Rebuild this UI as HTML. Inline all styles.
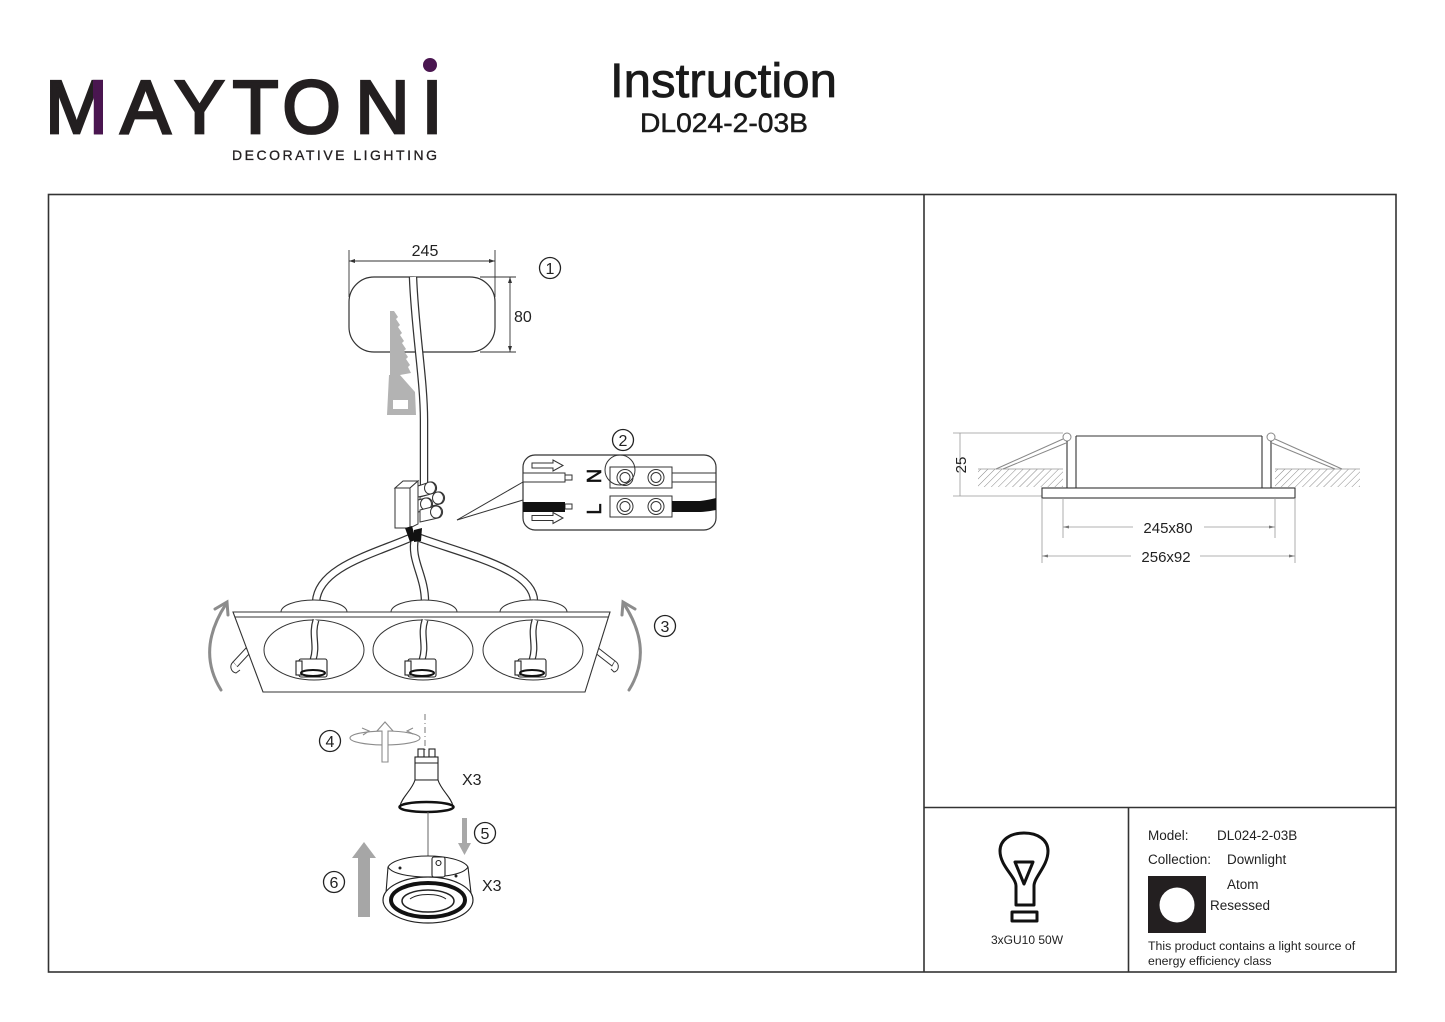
<!DOCTYPE html>
<html><head><meta charset="utf-8">
<style>html,body{margin:0;padding:0;background:#fff}svg{display:block}</style>
</head>
<body>
<svg width="1445" height="1022" viewBox="0 0 1445 1022" xmlns="http://www.w3.org/2000/svg" font-family="'Liberation Sans', Arial, sans-serif">
<defs>
  <clipPath id="mclip"><rect x="93" y="60" width="20" height="90"/></clipPath>
  <pattern id="hatch" width="5" height="5" patternUnits="userSpaceOnUse" patternTransform="rotate(45)">
    <line x1="0" y1="0" x2="0" y2="5" stroke="#8a8a8a" stroke-width="1"/>
  </pattern>
</defs>
<rect width="1445" height="1022" fill="#fff"/>

<!-- LOGO -->
<g fill="#231f20" stroke="#231f20" stroke-width="2.8" font-size="75" text-anchor="middle">
  <text x="76.5" y="133">M</text>
  <text x="145.5" y="133">A</text>
  <text x="199.5" y="133">Y</text>
  <text x="255.5" y="133">T</text>
  <text x="311.5" y="133">O</text>
  <text x="382.5" y="133">N</text>
  <text x="432" y="133">I</text>
</g>
<g clip-path="url(#mclip)"><text x="76.5" y="133" font-size="75" text-anchor="middle" fill="#4a1650" stroke="#4a1650" stroke-width="2.8">M</text></g>
<circle cx="430" cy="65" r="7" fill="#4a1650"/>
<text x="232" y="160" font-size="14" fill="#231f20" stroke="#231f20" stroke-width="0.3" textLength="205" lengthAdjust="spacing">DECORATIVE LIGHTING</text>

<!-- TITLE -->
<text x="610" y="97" font-size="48" fill="#1a1a1a" stroke="#1a1a1a" stroke-width="0.8" textLength="227" lengthAdjust="spacingAndGlyphs">Instruction</text>
<text x="640" y="132" font-size="27" fill="#1a1a1a" stroke="#1a1a1a" stroke-width="0.5" textLength="168" lengthAdjust="spacingAndGlyphs">DL024-2-03B</text>

<!-- FRAME -->
<g stroke="#333" stroke-width="1.6" fill="none">
  <rect x="48.5" y="194.5" width="1347.5" height="777.5"/>
  <line x1="924" y1="194" x2="924" y2="972"/>
  <line x1="924" y1="807.5" x2="1396" y2="807.5"/>
  <line x1="1128.5" y1="807" x2="1128.5" y2="972"/>
</g>

<!-- STEP 1 -->
<g stroke="#333" fill="none" stroke-width="0.9">
  <line x1="349" y1="250" x2="349" y2="297"/>
  <line x1="495" y1="250" x2="495" y2="297"/>
  <line x1="349" y1="261" x2="495" y2="261"/>
  <line x1="480" y1="277" x2="516" y2="277"/>
  <line x1="480" y1="352" x2="516" y2="352"/>
  <line x1="510" y1="277" x2="510" y2="352"/>
</g>
<g fill="#333">
  <polygon points="349,261 355,259 355,263"/>
  <polygon points="495,261 489,259 489,263"/>
  <polygon points="510,277 508,283 512,283"/>
  <polygon points="510,352 508,346 512,346"/>
</g>
<text x="425" y="256" font-size="16" text-anchor="middle" fill="#222">245</text>
<text x="514" y="322" font-size="16" fill="#222">80</text>
<rect x="349" y="277" width="146" height="75" rx="25" fill="none" stroke="#333" stroke-width="1.2"/>
<circle cx="550" cy="268" r="10.5" fill="none" stroke="#222" stroke-width="1.3"/>
<text x="550" y="274" font-size="16" text-anchor="middle" fill="#222">1</text>

<!-- saw -->
<path d="M390,311 L394,311 L398,317 L396,319 L400,325 L398,327 L402,333 L400,335 L404,341 L402,343 L406,349 L404,351 L408,357 L406,359 L410,365 L408,367 L411,373 L400,375 L415,392 L416,415 L387,415 L389,375 L390,375 Z" fill="#b3b3b3"/>
<rect x="393" y="400" width="15" height="9" fill="#fff"/>

<!-- main cable -->
<path d="M413,277 C 415,330 424,380 424,420 L 424,488" fill="none" stroke="#333" stroke-width="8.5"/>
<path d="M413,277 C 415,330 424,380 424,420 L 424,488" fill="none" stroke="#fff" stroke-width="6"/>

<!-- cables to lamps -->
<g fill="none">
  <path d="M410,538 C 370,555 318,568 316,602" stroke="#333" stroke-width="8.5"/>
  <path d="M410,538 C 370,555 318,568 316,602" stroke="#fff" stroke-width="6"/>
  <path d="M415,538 C 410,560 425,575 425,602" stroke="#333" stroke-width="8.5"/>
  <path d="M415,538 C 410,560 425,575 425,602" stroke="#fff" stroke-width="6"/>
  <path d="M420,538 C 470,556 535,570 534,602" stroke="#333" stroke-width="8.5"/>
  <path d="M420,538 C 470,556 535,570 534,602" stroke="#fff" stroke-width="6"/>
</g>

<!-- connector block -->
<g stroke="#333" stroke-width="1" fill="#fff">
  <polygon points="395,488 403,481 418,481 410,488"/>
  <rect x="395" y="488" width="15" height="40"/>
  <polygon points="410,488 418,481 418,524 410,528"/>
  <path d="M418,486 L430,482 A5.5,6 0 0 1 432,494 L418,497 Z"/>
  <ellipse cx="430" cy="488" rx="5.5" ry="6"/>
  <path d="M420,497 L438,492 A5.5,6 0 0 1 440,504 L420,509 Z"/>
  <ellipse cx="438" cy="498" rx="5.5" ry="6"/>
  <path d="M418,500 L426,498 A5.5,6 0 0 1 428,510 L418,512 Z"/>
  <ellipse cx="426" cy="504" rx="5.5" ry="6"/>
  <path d="M420,510 L436,506 A5.5,6 0 0 1 438,518 L420,522 Z"/>
  <ellipse cx="436" cy="512" rx="5.5" ry="6"/>
</g>
<path d="M405,528 L412,526 L416,540 L410,542 Z" fill="#111"/>
<path d="M414,530 L422,528 L421,541 L414,542 Z" fill="#111"/>

<!-- leader -->
<g stroke="#333" stroke-width="1" fill="none">
  <line x1="457" y1="520" x2="523" y2="482"/>
  <line x1="457" y1="520" x2="523" y2="500"/>
</g>

<!-- STEP 2 box -->
<rect x="523" y="455" width="193" height="75" rx="12" fill="#fff" stroke="#333" stroke-width="1.2"/>
<g stroke="#333" stroke-width="1" fill="#fff">
  <polygon points="532,463 553,463 553,460 563,465.5 553,471 553,468 532,468"/>
  <polygon points="532,515.5 553,515.5 553,512.5 563,518 553,523.5 553,520.5 532,520.5"/>
  <rect x="523" y="473" width="42" height="9"/>
  <rect x="565" y="475" width="7" height="5"/>
  <rect x="565" y="504" width="7" height="5"/>
  <rect x="610" y="467" width="62" height="21"/>
  <rect x="610" y="496" width="62" height="21"/>
  <circle cx="625" cy="477.5" r="8"/><circle cx="625" cy="477.5" r="5"/>
  <circle cx="656" cy="477.5" r="8"/><circle cx="656" cy="477.5" r="5"/>
  <circle cx="625" cy="506.5" r="8"/><circle cx="625" cy="506.5" r="5"/>
  <circle cx="656" cy="506.5" r="8"/><circle cx="656" cy="506.5" r="5"/>
  <line x1="672" y1="473" x2="716" y2="473"/>
  <line x1="672" y1="482" x2="716" y2="482"/>
</g>
<rect x="523" y="502" width="42" height="10" fill="#111"/>
<path d="M672,501 L700,501 C 708,500 712,499 716,498 L716,510 C 710,511 705,512 698,512 L672,512 Z" fill="#111"/>
<circle cx="620" cy="470" r="15" fill="none" stroke="#333" stroke-width="1"/>
<text transform="translate(594,476) rotate(-90)" y="7" font-size="20" text-anchor="middle" fill="#111" stroke="#111" stroke-width="0.6">N</text>
<text transform="translate(594,509) rotate(-90)" y="7" font-size="20" text-anchor="middle" fill="#111" stroke="#111" stroke-width="0.6">L</text>
<circle cx="623" cy="440" r="10.5" fill="none" stroke="#222" stroke-width="1.3"/>
<text x="623" y="446" font-size="16" text-anchor="middle" fill="#222">2</text>

<!-- STEP 3 -->
<g stroke="#333" stroke-width="1" fill="#fff">
  <path d="M281,612 A33,12 0 0 1 347,612 Z"/>
  <path d="M391,612 A33,12 0 0 1 457,612 Z"/>
  <path d="M500,612 A33,12 0 0 1 567,612 Z"/>
</g>
<!-- clips -->
<g stroke="#333" stroke-width="1" fill="#fff">
  <polygon points="233,662 246,648 250,653 237,667"/>
  <path d="M233,662 C 229,666 231,672 236,673 L 240,670"/>
  <polygon points="597,647 615,661 612,666 594,652"/>
  <path d="M615,661 C 620,664 619,671 614,672 L 611,669"/>
</g>
<polygon points="233,612 610,612 585,692 263,692" fill="#fff" stroke="#333" stroke-width="1.1"/>
<line x1="235" y1="617" x2="608" y2="617" stroke="#333" stroke-width="1"/>
<g stroke="#333" stroke-width="1" fill="none">
  <ellipse cx="314" cy="650" rx="50" ry="30"/>
  <ellipse cx="423" cy="650" rx="50" ry="30"/>
  <ellipse cx="533" cy="650" rx="50" ry="30"/>
</g>
<g fill="none">
  <path d="M316,620 C 311,635 318,645 313,660" stroke="#333" stroke-width="7"/>
  <path d="M316,620 C 311,635 318,645 313,660" stroke="#fff" stroke-width="4.5"/>
  <path d="M425,620 C 420,635 427,645 422,660" stroke="#333" stroke-width="7"/>
  <path d="M425,620 C 420,635 427,645 422,660" stroke="#fff" stroke-width="4.5"/>
  <path d="M535,620 C 530,635 537,645 532,660" stroke="#333" stroke-width="7"/>
  <path d="M535,620 C 530,635 537,645 532,660" stroke="#fff" stroke-width="4.5"/>
</g>
<g stroke="#222" stroke-width="1.1" fill="#fff">
  <rect x="299" y="659" width="28" height="18" rx="2"/>
  <rect x="296" y="661" width="6" height="14"/>
  <rect x="408" y="659" width="28" height="18" rx="2"/>
  <rect x="405" y="661" width="6" height="14"/>
  <rect x="518" y="659" width="28" height="18" rx="2"/>
  <rect x="515" y="661" width="6" height="14"/>
</g>
<g stroke="#111" stroke-width="2" fill="none">
  <ellipse cx="313" cy="673" rx="12" ry="3"/>
  <ellipse cx="422" cy="673" rx="12" ry="3"/>
  <ellipse cx="532" cy="673" rx="12" ry="3"/>
</g>
<!-- gray arrows -->
<g stroke="#8c8c8c" stroke-width="3" fill="none" stroke-linecap="round">
  <path d="M221,690 Q 196,650 226,604"/>
  <polyline points="215,609 227,602 228,615"/>
  <path d="M629,690 Q 654,650 624,604"/>
  <polyline points="635,609 623,602 622,615"/>
</g>
<circle cx="665" cy="626" r="10.5" fill="none" stroke="#222" stroke-width="1.3"/>
<text x="665" y="632" font-size="16" text-anchor="middle" fill="#222">3</text>

<!-- STEP 4 -->
<circle cx="330" cy="741" r="10.5" fill="none" stroke="#222" stroke-width="1.3"/>
<text x="330" y="747" font-size="16" text-anchor="middle" fill="#222">4</text>
<g stroke="#8c8c8c" stroke-width="1.1" fill="none">
  <ellipse cx="385" cy="738" rx="35" ry="7"/>
  <polyline points="362,728 369,731 363,735"/>
  <polyline points="413,728 407,731 413,734"/>
  <polygon points="382,762 388,762 388,731 393,731 385,722 377,731 382,731" fill="#fff"/>
</g>
<line x1="425" y1="714" x2="425" y2="752" stroke="#777" stroke-width="1" stroke-dasharray="6 3 1 3"/>
<!-- bulb -->
<g stroke="#222" stroke-width="1.1" fill="#fff">
  <rect x="418" y="749" width="6" height="8"/>
  <rect x="429" y="749" width="6" height="8"/>
  <rect x="415" y="757" width="23" height="23"/>
  <line x1="415" y1="763" x2="438" y2="763"/>
  <path d="M415,780 C 412,790 402,797 400,806 L453,806 C 451,797 441,790 438,780 Z"/>
</g>
<ellipse cx="426.5" cy="807" rx="27" ry="5" fill="#fff" stroke="#111" stroke-width="2.5"/>
<text x="462" y="785" font-size="16" fill="#222">X3</text>
<line x1="428" y1="812" x2="428" y2="862" stroke="#666" stroke-width="1"/>
<!-- step 5 -->
<polygon points="462,818 467,818 467,843 471,843 464.5,855 458,843 462,843" fill="#a8a8a8"/>
<circle cx="485" cy="833" r="10.5" fill="none" stroke="#222" stroke-width="1.3"/>
<text x="485" y="839" font-size="16" text-anchor="middle" fill="#222">5</text>
<!-- step 6 -->
<polygon points="358,917 370,917 370,858 376,858 364,842 352,858 358,858" fill="#a6a6a6"/>
<circle cx="334" cy="882" r="10.5" fill="none" stroke="#222" stroke-width="1.3"/>
<text x="334" y="888" font-size="16" text-anchor="middle" fill="#222">6</text>
<!-- ring -->
<g stroke="#222" stroke-width="1.1" fill="#fff">
  <path d="M388,867 C 392,860 410,856 428,856 C 446,856 464,860 468,867 L 471,893 L 386,893 Z"/>
  <path d="M388,867 C 392,874 410,877 428,877 C 446,877 464,874 468,867" fill="none"/>
  <rect x="432" y="857" width="13" height="20" rx="2"/>
  <circle cx="438.5" cy="863" r="2.5"/>
</g>
<circle cx="400" cy="868" r="1.5" fill="#222"/>
<circle cx="456" cy="876" r="1.5" fill="#222"/>
<ellipse cx="428" cy="900" rx="45" ry="23" fill="#fff" stroke="#222" stroke-width="1.2"/>
<ellipse cx="428" cy="900" rx="37" ry="17" fill="#fff" stroke="#111" stroke-width="4"/>
<ellipse cx="428" cy="901" rx="26" ry="11" fill="#fff" stroke="#222" stroke-width="1.5"/>
<path d="M410,899 C 418,893 438,893 446,899" fill="none" stroke="#222" stroke-width="1"/>
<text x="482" y="891" font-size="16" fill="#222">X3</text>

<!-- RIGHT SECTION DRAWING -->
<rect x="978" y="469" width="85" height="18" fill="url(#hatch)"/>
<rect x="1275" y="469" width="85" height="18" fill="url(#hatch)"/>
<g stroke="#999" stroke-width="0.8" fill="none">
  <line x1="953" y1="433" x2="1063" y2="433"/>
  <line x1="953" y1="496" x2="1042" y2="496"/>
  <line x1="960" y1="433" x2="960" y2="496"/>
  <line x1="978" y1="469" x2="1063" y2="469"/>
  <line x1="1275" y1="469" x2="1360" y2="469"/>
</g>
<g stroke="#888" stroke-width="1" fill="none">
  <line x1="1063" y1="439" x2="996" y2="469"/>
  <line x1="1066" y1="443" x2="1003" y2="469"/>
  <line x1="1275" y1="439" x2="1342" y2="469"/>
  <line x1="1272" y1="443" x2="1335" y2="469"/>
  <circle cx="1067" cy="437" r="4" fill="#fff"/>
  <circle cx="1271" cy="437" r="4" fill="#fff"/>
</g>
<g stroke="#333" stroke-width="1.1" fill="none">
  <line x1="1067" y1="441" x2="1067" y2="488"/>
  <line x1="1076" y1="436" x2="1076" y2="488"/>
  <line x1="1262" y1="436" x2="1262" y2="488"/>
  <line x1="1271" y1="441" x2="1271" y2="488"/>
  <line x1="1076" y1="436" x2="1262" y2="436"/>
  <rect x="1042" y="488" width="253" height="10" fill="#fff"/>
</g>
<text transform="translate(966,465) rotate(-90)" font-size="15" text-anchor="middle" fill="#222">25</text>
<g stroke="#999" stroke-width="0.8">
  <line x1="1063" y1="498" x2="1063" y2="538"/>
  <line x1="1275" y1="498" x2="1275" y2="538"/>
  <line x1="1042" y1="498" x2="1042" y2="563"/>
  <line x1="1295" y1="498" x2="1295" y2="563"/>
  <line x1="1063" y1="527" x2="1133" y2="527"/>
  <line x1="1204" y1="527" x2="1275" y2="527"/>
  <line x1="1042" y1="556" x2="1131" y2="556"/>
  <line x1="1200" y1="556" x2="1295" y2="556"/>
</g>
<g fill="#777">
  <polygon points="1063,527 1069,525.5 1069,528.5"/>
  <polygon points="1275,527 1269,525.5 1269,528.5"/>
  <polygon points="1042,556 1048,554.5 1048,557.5"/>
  <polygon points="1295,556 1289,554.5 1289,557.5"/>
</g>
<text x="1168" y="533" font-size="15" text-anchor="middle" fill="#222">245x80</text>
<text x="1166" y="562" font-size="15" text-anchor="middle" fill="#222">256x92</text>

<!-- BULB ICON -->
<g stroke="#111" stroke-width="3" fill="none" stroke-linejoin="round">
  <path d="M1016,905 L1016,886 C 1016,877 1000,866 1000,851 C 1000,840 1010,833 1024,833 C 1038,833 1048,840 1048,851 C 1048,866 1034,877 1034,886 L1034,905 Z"/>
  <polygon points="1015,862 1033,862 1024,884"/>
  <rect x="1012" y="912" width="25" height="9"/>
</g>
<text x="1027" y="944" font-size="12" text-anchor="middle" fill="#222">3xGU10 50W</text>

<!-- INFO -->
<g font-size="13.5" fill="#222">
  <text x="1148" y="840">Model:</text>
  <text x="1217" y="840">DL024-2-03B</text>
  <text x="1148" y="864">Collection:</text>
  <text x="1227" y="864">Downlight</text>
  <text x="1227" y="889">Atom</text>
  <text x="1210" y="910">Resessed</text>
</g>
<rect x="1148" y="876" width="58" height="57" fill="#231f20"/>
<circle cx="1177" cy="905" r="17.5" fill="#fff"/>
<g font-size="12.3" fill="#222">
  <text x="1148" y="950">This product contains a light source of</text>
  <text x="1148" y="965">energy efficiency class</text>
</g>
</svg>
</body>
</html>
